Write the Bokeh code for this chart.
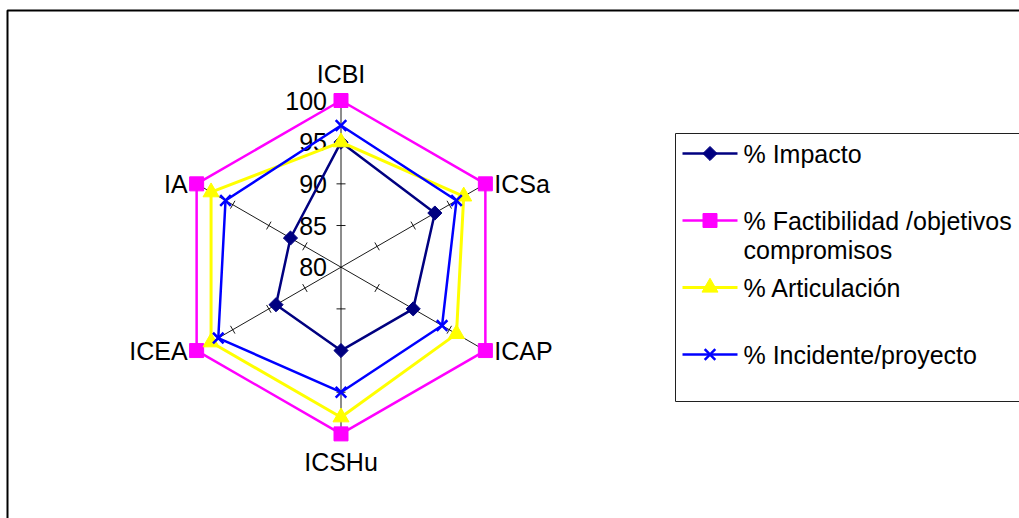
import numpy as np
from bokeh.plotting import figure
from bokeh.models import Range1d
from bokeh.core.properties import value
from bokeh.embed import file_html
from bokeh.resources import INLINE

# ---- data -------------------------------------------------------------
categories = ["ICBI", "ICSa", "ICAP", "ICSHu", "ICEA", "IA"]
impacto = [95, 93, 90, 90, 89, 87]
factibilidad = [100, 100, 100, 100, 100, 100]
articulacion = [95, 97, 96, 98, 98, 98]
incidente = [97, 96, 94, 95, 97, 96]
tick_values = [80, 85, 90, 95, 100]
series_labels = [
    "% Impacto",
    "% Factibilidad /objetivos\ncompromisos",
    "% Articulación",
    "% Incidente/proyecto",
]

# ---- layout ------------------------------------------------------------
W, H = 1019, 518
R_MIN, R_MAX = 80, 100
CX, CY = 340.5, 266.7              # radar centre, in page pixels
PX = 166.7 / (R_MAX - R_MIN)       # pixels per radial unit
FONT = value("Liberation Sans")
FSIZE = value("25px")


def sx(px):
    return (px - CX) / PX


def sy(py):
    return (CY - py) / PX


angles = np.deg2rad(90 - 60 * np.arange(len(categories)))
ux, uy = np.cos(angles), np.sin(angles)


def polar(vals):
    r = np.asarray(vals, dtype=float) - R_MIN
    return r * ux, r * uy


p = figure(width=W, height=H, x_range=Range1d(sx(0), sx(W)), y_range=Range1d(sy(H), sy(0)),
           output_backend="svg", toolbar_location=None, min_border=0,
           x_axis_location=None, y_axis_location=None)
p.grid.visible = False
p.outline_line_color = None
p.background_fill_color = "white"
p.border_fill_color = "white"

# outer frame (top and left edges visible)
p.line([sx(7), sx(7), sx(W + 20)], [sy(H + 20), sy(10), sy(10)], line_color="black", line_width=2)

# spokes
rmax = R_MAX - R_MIN
p.segment(x0=np.zeros(6), y0=np.zeros(6), x1=rmax * ux, y1=rmax * uy, line_color="black", line_width=0.9)

# tick marks across every spoke
half = 4.5 / PX
tx0, ty0, tx1, ty1 = [], [], [], []
for ax_, ay_ in zip(ux, uy):
    for v in tick_values[1:]:
        r = v - R_MIN
        px_, py_ = -ay_, ax_
        tx0.append(r * ax_ - half * px_); ty0.append(r * ay_ - half * py_)
        tx1.append(r * ax_ + half * px_); ty1.append(r * ay_ + half * py_)
p.segment(x0=tx0, y0=ty0, x1=tx1, y1=ty1, line_color="black", line_width=0.9)

# radial tick labels on the vertical spoke
p.text(x=[0] * len(tick_values), y=[v - R_MIN for v in tick_values], text=[str(v) for v in tick_values],
       x_offset=-14, text_align="right", text_baseline="middle",
       text_font=FONT, text_font_size=FSIZE, text_color="black")

# category labels
lab_x, lab_y = rmax * ux, rmax * uy
offsets = [(0, -27, "center"), (9, 0, "left"), (9, 0, "left"),
           (0, 28, "center"), (-9, 0, "right"), (-9, 0, "right")]
for i, cat in enumerate(categories):
    dx, dy, al = offsets[i]
    p.text(x=[lab_x[i]], y=[lab_y[i]], text=[cat], x_offset=dx, y_offset=dy,
           text_align=al, text_baseline="middle",
           text_font=FONT, text_font_size=FSIZE, text_color="black")

# series
styles = [
    dict(color="#000080", marker="square", size=10, angle=np.pi / 4, lw=2.5),
    dict(color="#FF00FF", marker="square", size=14, angle=0, lw=2.5),
    dict(color="#FFFF00", marker="triangle", size=16, angle=0, lw=3),
    dict(color="#0000FF", marker="x", size=15, angle=0, lw=2.5),
]
series = [impacto, factibilidad, articulacion, incidente]

for vals, st in zip(series, styles):
    xs, ys = polar(vals)
    p.line(list(xs) + [xs[0]], list(ys) + [ys[0]], line_color=st["color"], line_width=st["lw"])
    p.scatter(xs, ys, marker=st["marker"], size=st["size"], angle=st["angle"],
              fill_color=st["color"], line_color=st["color"], line_width=2.5 if st["marker"] == "x" else 1)

# legend
p.quad(left=[sx(675)], right=[sx(W + 20)], top=[sy(133)], bottom=[sy(401)],
       fill_color="white", line_color="#202020", line_width=1)
entry_y = [153, 220, 287, 354]
for lab, st, ey in zip(series_labels, styles, entry_y):
    p.line([sx(682), sx(737)], [sy(ey), sy(ey)], line_color=st["color"], line_width=st["lw"])
    p.scatter([sx(709.5)], [sy(ey)], marker=st["marker"], size=st["size"], angle=st["angle"],
              fill_color=st["color"], line_color=st["color"], line_width=2.5 if st["marker"] == "x" else 1)
    for k, line in enumerate(lab.split("\n")):
        p.text(x=[sx(743)], y=[sy(ey + 29 * k)], text=[line], text_align="left", text_baseline="middle",
               text_font=FONT, text_font_size=FSIZE, text_color="black")

open("out.html", "w").write(file_html(p, INLINE))
